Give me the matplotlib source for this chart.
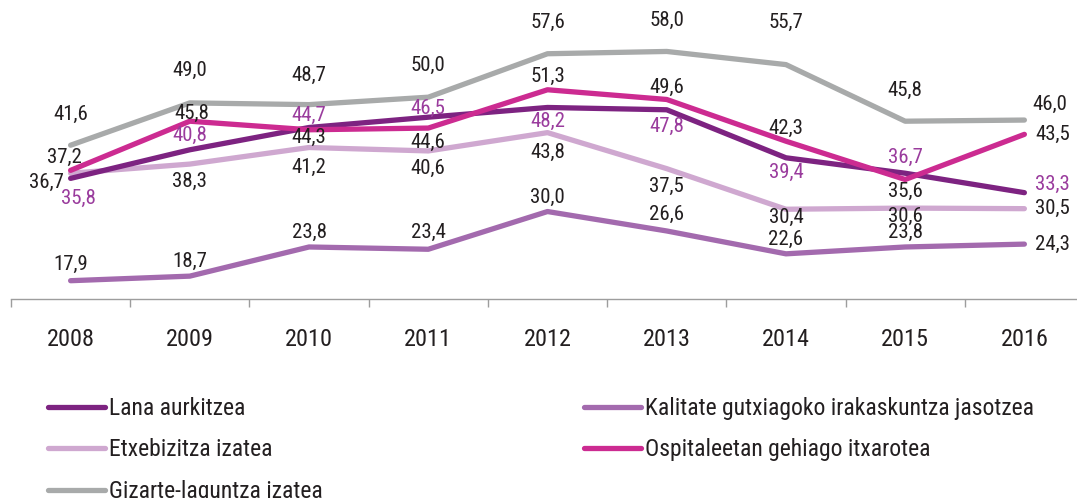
import matplotlib
matplotlib.use('Agg')
import matplotlib.pyplot as plt
from matplotlib.ticker import FixedLocator

plt.rcParams['font.family'] = ['Roboto Condensed', 'Liberation Sans Narrow', 'DejaVu Sans']

years = ['2008', '2009', '2010', '2011', '2012', '2013', '2014', '2015', '2016']

lana = [35.8, 40.8, 44.7, 46.5, 48.2, 47.8, 39.4, 36.7, 33.3]
kalitate = [17.9, 18.7, 23.8, 23.4, 30.0, 26.6, 22.6, 23.8, 24.3]
etxebizitza = [36.7, 38.3, 41.2, 40.6, 43.8, 37.5, 30.4, 30.6, 30.5]
ospitale = [37.2, 45.8, 44.3, 44.6, 51.3, 49.6, 42.3, 35.6, 43.5]
gizarte = [41.6, 49.0, 48.7, 50.0, 57.6, 58.0, 55.7, 45.8, 46.0]

# label offsets in pixels (dx, dy) relative to each point, dy upward
R = (28, 0)
lbl_off = {
    'gizarte': [(0, 31), (0, 33), (0, 29), (0, 32), (0, 31), (0, 31), (0, 42), (0, 31), (25, 16)],
    'ospitale': [(-6, 13), (2, 8), (0, -8), (0, -14), (0, 13), (0, 12), (0, 13), (0, -12), R],
    'lana': [(8, -20), (0, 14), (0, 12), (0, 9), (0, -14), (0, -17), (0, -15), (0, 16), (28, 8)],
    'etxebizitza': [(-24, -9), (0, -17), (0, -20), (0, -17), (0, -20), (0, -18), (0, -8), (0, -8), R],
    'kalitate': [(0, 16), (0, 15), (0, 15), (0, 17), (0, 14), (0, 17), (0, 14), (0, 15), R],
}

dark = '#231f20'
series = [
    ('lana', 'Lana aurkitzea', lana, '#7d2381', '#9a3c9d'),
    ('etxebizitza', 'Etxebizitza izatea', etxebizitza, '#cfa8d0', dark),
    ('gizarte', 'Gizarte-laguntza izatea', gizarte, '#a8aaaa', dark),
    ('kalitate', 'Kalitate gutxiagoko irakaskuntza jasotzea', kalitate, '#a36aae', dark),
    ('ospitale', 'Ospitaleetan gehiago itxarotea', ospitale, '#cc2b91', dark),
]
draw_order = ['gizarte', 'etxebizitza', 'kalitate', 'lana', 'ospitale']

W, H = 1077, 498
fig = plt.figure(figsize=(W / 100, H / 100), dpi=100)
ax = fig.add_axes([11 / W, 1 - 299 / H, (1084 - 11) / W, 299 / H])

x = list(range(len(years)))
handles = {}
for key in draw_order:
    k, name, vals, col, tcol = [s for s in series if s[0] == key][0]
    ln, = ax.plot(x, vals, color=col, lw=3.8, solid_capstyle='round',
                  solid_joinstyle='round', label=name)
    handles[key] = ln
    for i, v in enumerate(vals):
        dx, dy = lbl_off[key][i]
        ax.annotate(f'{v:.1f}'.replace('.', ','), (i, v), xytext=(dx, dy),
                    textcoords='offset pixels', ha='center', va='center',
                    fontsize=15, color=tcol)

ax.set_xlim(-0.5, 8.5)
ax.set_ylim(14.7, 67)
for s in ['top', 'left', 'right']:
    ax.spines[s].set_visible(False)
ax.spines['bottom'].set_color('#9d9d9d')
ax.spines['bottom'].set_linewidth(1.0)
ax.set_yticks([])
ax.set_xticks(x)
ax.set_xticklabels(years, fontsize=17.5, color=dark)
ax.tick_params(axis='x', which='major', length=0, pad=21)
ax.xaxis.set_minor_locator(FixedLocator([i - 0.5 for i in range(len(years) + 1)]))
ax.tick_params(axis='x', which='minor', length=6, width=1, color='#9d9d9d', direction='out')

leg_kw = dict(frameon=False, fontsize=17, handlelength=2.4, handletextpad=0.2,
              labelspacing=0.78, borderpad=0, borderaxespad=0, labelcolor=dark)
l1 = fig.legend([handles['lana'], handles['etxebizitza'], handles['gizarte']],
                ['Lana aurkitzea', 'Etxebizitza izatea', 'Gizarte-laguntza izatea'],
                loc='upper left', bbox_to_anchor=(48 / W, 1 - 397 / H), **leg_kw)
l2 = fig.legend([handles['kalitate'], handles['ospitale']],
                ['Kalitate gutxiagoko irakaskuntza jasotzea', 'Ospitaleetan gehiago itxarotea'],
                loc='upper left', bbox_to_anchor=(584 / W, 1 - 397 / H), **leg_kw)

fig.savefig('out.png', dpi=100)
